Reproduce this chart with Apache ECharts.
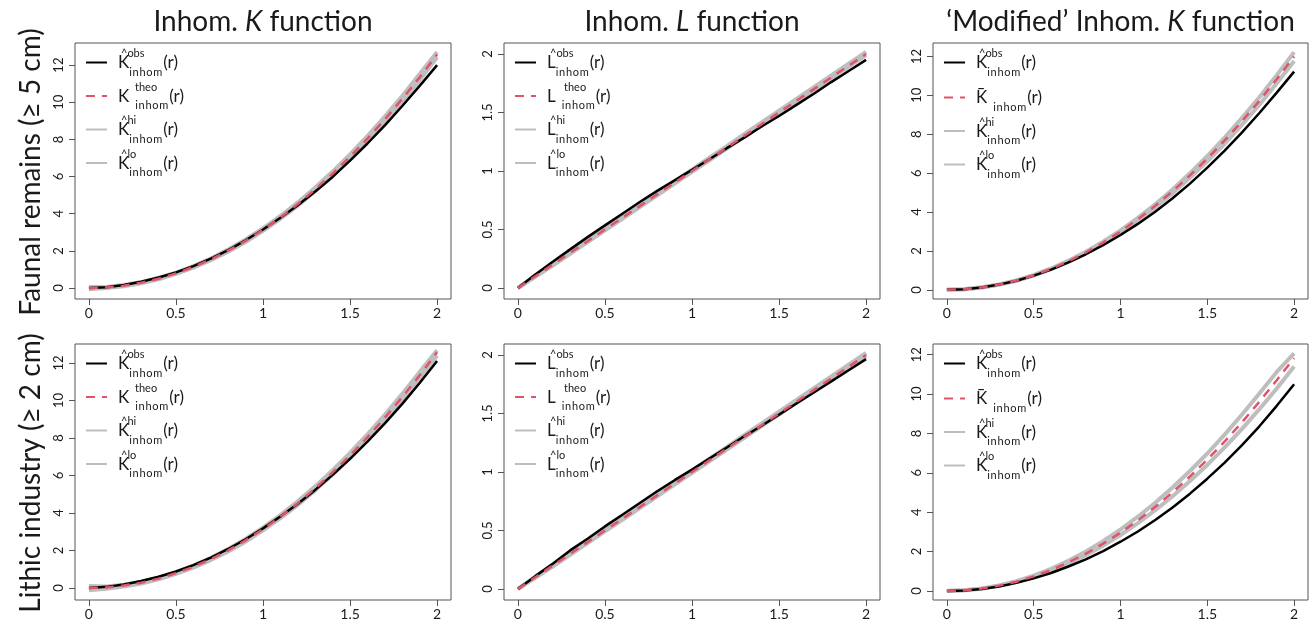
<!DOCTYPE html>
<html>
<head>
<meta charset="utf-8">
<script src="https://cdn.jsdelivr.net/npm/echarts@6/dist/echarts.min.js"></script>
<style>
  html, body { margin: 0; padding: 0; background: #fff; }
  #chart { width: 1314px; height: 623px; }
</style>
</head>
<body>
<div id="chart"></div>
<script>
// distance r, shared by all six panels
const radius = [0, 0.1, 0.2, 0.3, 0.4, 0.5, 0.6, 0.7, 0.8, 0.9, 1.0,
                1.1, 1.2, 1.3, 1.4, 1.5, 1.6, 1.7, 1.8, 1.9, 2.0];

// Faunal remains, inhom. K
const faunaKObs  = [0, 0.04, 0.16, 0.34, 0.57, 0.84, 1.18, 1.58, 2.04, 2.57, 3.15, 3.78, 4.46, 5.2, 5.98, 6.86, 7.78, 8.76, 9.8, 10.88, 12.0];
const faunaKTheo = [0, 0.03, 0.13, 0.28, 0.5, 0.79, 1.13, 1.54, 2.01, 2.54, 3.14, 3.8, 4.52, 5.31, 6.16, 7.07, 8.04, 9.08, 10.18, 11.34, 12.57];
const faunaKHi   = [0.06, 0.06, 0.17, 0.32, 0.54, 0.83, 1.18, 1.59, 2.07, 2.61, 3.21, 3.88, 4.61, 5.41, 6.27, 7.19, 8.18, 9.23, 10.34, 11.52, 12.7];
const faunaKLo   = [-0.06, 0.0, 0.1, 0.25, 0.47, 0.76, 1.1, 1.5, 1.96, 2.48, 3.08, 3.73, 4.44, 5.22, 6.06, 6.96, 7.92, 8.95, 10.04, 11.19, 12.42];

// Faunal remains, inhom. L
const faunaLObs  = [0, 0.115, 0.225, 0.33, 0.435, 0.535, 0.635, 0.735, 0.83, 0.92, 1.01, 1.1, 1.195, 1.285, 1.38, 1.47, 1.565, 1.66, 1.76, 1.855, 1.95];
const faunaLTheo = [0, 0.1, 0.2, 0.3, 0.4, 0.5, 0.6, 0.7, 0.8, 0.9, 1.0, 1.1, 1.2, 1.3, 1.4, 1.5, 1.6, 1.7, 1.8, 1.9, 2.0];
const faunaLHi   = [0, 0.105, 0.208, 0.309, 0.41, 0.511, 0.611, 0.711, 0.812, 0.912, 1.012, 1.113, 1.213, 1.314, 1.415, 1.516, 1.616, 1.717, 1.818, 1.918, 2.018];
const faunaLLo   = [0, 0.095, 0.192, 0.292, 0.392, 0.492, 0.592, 0.692, 0.792, 0.892, 0.992, 1.092, 1.192, 1.292, 1.392, 1.492, 1.592, 1.692, 1.792, 1.892, 1.99];

// Faunal remains, 'modified' inhom. K
const faunaMObs  = [0, 0.03, 0.12, 0.27, 0.47, 0.73, 1.04, 1.41, 1.83, 2.3, 2.82, 3.39, 4.02, 4.71, 5.46, 6.28, 7.16, 8.1, 9.09, 10.14, 11.22];
const faunaMBar  = [0, 0.03, 0.12, 0.27, 0.48, 0.75, 1.08, 1.47, 1.92, 2.43, 3.0, 3.63, 4.32, 5.07, 5.88, 6.75, 7.68, 8.67, 9.72, 10.83, 12.0];
const faunaMHi   = [0, 0.03, 0.13, 0.28, 0.49, 0.77, 1.1, 1.5, 1.96, 2.48, 3.06, 3.7, 4.4, 5.16, 5.99, 6.88, 7.83, 8.84, 9.9, 11.03, 12.22];
const faunaMLo   = [0, 0.03, 0.12, 0.26, 0.47, 0.73, 1.06, 1.44, 1.88, 2.38, 2.94, 3.56, 4.23, 4.97, 5.76, 6.61, 7.52, 8.49, 9.52, 10.62, 11.76];

// Lithic industry, inhom. K
const lithicKObs  = [0, 0.06, 0.19, 0.37, 0.6, 0.88, 1.22, 1.62, 2.08, 2.6, 3.18, 3.81, 4.49, 5.23, 6.03, 6.89, 7.8, 8.78, 9.82, 10.93, 12.1];
const lithicKTheo = [0, 0.03, 0.13, 0.28, 0.5, 0.79, 1.13, 1.54, 2.01, 2.54, 3.14, 3.8, 4.52, 5.31, 6.16, 7.07, 8.04, 9.08, 10.18, 11.34, 12.57];
const lithicKHi   = [0.1, 0.08, 0.18, 0.33, 0.55, 0.84, 1.19, 1.6, 2.08, 2.62, 3.22, 3.89, 4.62, 5.42, 6.28, 7.2, 8.19, 9.24, 10.35, 11.52, 12.68];
const lithicKLo   = [-0.12, -0.04, 0.08, 0.24, 0.46, 0.75, 1.09, 1.49, 1.95, 2.47, 3.07, 3.72, 4.43, 5.21, 6.05, 6.95, 7.91, 8.94, 10.03, 11.18, 12.4];

// Lithic industry, inhom. L
const lithicLObs  = [0, 0.11, 0.215, 0.33, 0.43, 0.535, 0.635, 0.735, 0.835, 0.93, 1.02, 1.115, 1.21, 1.305, 1.395, 1.49, 1.585, 1.68, 1.775, 1.87, 1.965];
const lithicLTheo = [0, 0.1, 0.2, 0.3, 0.4, 0.5, 0.6, 0.7, 0.8, 0.9, 1.0, 1.1, 1.2, 1.3, 1.4, 1.5, 1.6, 1.7, 1.8, 1.9, 2.0];
const lithicLHi   = [0, 0.105, 0.208, 0.309, 0.41, 0.511, 0.611, 0.711, 0.812, 0.912, 1.012, 1.113, 1.213, 1.314, 1.415, 1.516, 1.616, 1.717, 1.818, 1.918, 2.018];
const lithicLLo   = [0, 0.095, 0.192, 0.292, 0.392, 0.492, 0.592, 0.692, 0.792, 0.892, 0.992, 1.092, 1.192, 1.292, 1.392, 1.492, 1.592, 1.692, 1.792, 1.892, 1.99];

// Lithic industry, 'modified' inhom. K
const lithicMObs  = [0, 0.02, 0.1, 0.23, 0.41, 0.64, 0.91, 1.24, 1.6, 2.02, 2.5, 3.02, 3.6, 4.24, 4.94, 5.7, 6.52, 7.4, 8.36, 9.4, 10.5];
const lithicMBar  = [0, 0.03, 0.12, 0.27, 0.47, 0.74, 1.06, 1.45, 1.89, 2.4, 2.96, 3.58, 4.27, 5.01, 5.81, 6.67, 7.59, 8.57, 9.61, 10.7, 11.82];
const lithicMHi   = [0, 0.03, 0.13, 0.28, 0.5, 0.78, 1.12, 1.53, 2.0, 2.53, 3.12, 3.77, 4.48, 5.25, 6.09, 6.98, 7.94, 8.96, 10.03, 11.12, 12.06];
const lithicMLo   = [0, 0.03, 0.11, 0.26, 0.45, 0.71, 1.01, 1.39, 1.81, 2.3, 2.84, 3.44, 4.1, 4.81, 5.58, 6.4, 7.29, 8.23, 9.23, 10.28, 11.4];

// tick labels
const xTicks = [0, 0.5, 1, 1.5, 2];
const kTicks = [0, 2, 4, 6, 8, 10, 12];
const lTicks = [0, 0.5, 1, 1.5, 2];

const colTitles = [
  '{n|Inhom. }{i|K}{n| function}',
  '{n|Inhom. }{i|L}{n| function}',
  '{n|\u2018Modified\u2019 Inhom. }{i|K}{n| function}'
];
const rowTitles = ['Faunal remains (\u2265 5 cm)', 'Lithic industry (\u2265 2 cm)'];

// panel layout
const colLeft = [75, 504, 933];
const colWidth = [376, 376, 375];
const rowTop = [43, 344];
const gridHeight = 256;

const panels = [
  { row: 0, col: 0, letter: 'K', mod: false, ticks: kTicks, yMin: -0.59, yMax: 13.19, obs: faunaKObs, theo: faunaKTheo, hi: faunaKHi, lo: faunaKLo },
  { row: 0, col: 1, letter: 'L', mod: false, ticks: lTicks, yMin: -0.094, yMax: 2.094, obs: faunaLObs, theo: faunaLTheo, hi: faunaLHi, lo: faunaLLo },
  { row: 0, col: 2, letter: 'K', mod: true, ticks: kTicks, yMin: -0.47, yMax: 12.69, obs: faunaMObs, theo: faunaMBar, hi: faunaMHi, lo: faunaMLo },
  { row: 1, col: 0, letter: 'K', mod: false, ticks: kTicks, yMin: -0.64, yMax: 13.01, obs: lithicKObs, theo: lithicKTheo, hi: lithicKHi, lo: lithicKLo },
  { row: 1, col: 1, letter: 'L', mod: false, ticks: lTicks, yMin: -0.094, yMax: 2.094, obs: lithicLObs, theo: lithicLTheo, hi: lithicLHi, lo: lithicLLo },
  { row: 1, col: 2, letter: 'K', mod: true, ticks: kTicks, yMin: -0.46, yMax: 12.54, obs: lithicMObs, theo: lithicMBar, hi: lithicMHi, lo: lithicMLo }
];

const ink = '#1a1a1a';
const axisGrey = '#555';
const none = 'rgba(0,0,0,0)';
const subText = 'i\u200An\u200Ah\u200Ao\u200Am';

// rich text pieces for the hat / bar / super- and subscripts of the legend
const legendRich = {
  hat: { fontSize: 11, lineHeight: 12, padding: [0, 0, 0, 9], color: ink },
  bar: { fontSize: 14, lineHeight: 12, padding: [0, 0, 0, 7], color: ink, fontWeight: 'bold' },
  gap: { fontSize: 11, width: 17, lineHeight: 12, padding: [0, 0, 0, 6] },
  sup: { fontSize: 11, lineHeight: 12, color: ink },
  k0: { fontSize: 17, lineHeight: 18, verticalAlign: 'bottom', padding: [0, 0, 6, 6], color: ink },
  k: { fontSize: 17, lineHeight: 18, verticalAlign: 'bottom', padding: [0, 0, 6, 1], color: ink },
  sp: { fontSize: 17, width: 6, lineHeight: 18, verticalAlign: 'bottom', padding: [0, 0, 6, 0] },
  sub: { fontSize: 11, lineHeight: 12, verticalAlign: 'bottom', color: ink }
};

function legendText(letter, mod, kind) {
  const line2 = '{k0|' + letter + '}{sub|' + subText + '}{k|(r)}';
  const line2gap = '{k0|' + letter + '}{sp| }{sub|' + subText + '}{k|(r)}';
  if (kind === 'theo') {
    if (mod) return '{bar|\u2013}\n' + line2gap;
    return '{gap| }{sup|theo}\n' + line2gap;
  }
  return '{hat|^}{sup|' + kind + '}\n' + line2;
}

const grids = [], xAxes = [], yAxes = [], series = [], legends = [], graphics = [];

panels.forEach(function (p, i) {
  grids.push({
    left: colLeft[p.col], top: rowTop[p.row], width: colWidth[p.col], height: gridHeight,
    show: true, borderColor: axisGrey, borderWidth: 1, backgroundColor: 'transparent'
  });
  xAxes.push({
    type: 'value', gridIndex: i, min: -0.08, max: 2.08,
    axisLine: { show: false, onZero: false },
    splitLine: { show: false },
    axisTick: { show: true, length: 6, inside: false, customValues: xTicks, lineStyle: { color: axisGrey } },
    axisLabel: { customValues: xTicks, color: ink, fontSize: 14, margin: 7 }
  });
  yAxes.push({
    type: 'value', gridIndex: i, min: p.yMin, max: p.yMax,
    axisLine: { show: false, onZero: false },
    splitLine: { show: false },
    axisTick: { show: true, length: 6, inside: false, customValues: p.ticks, lineStyle: { color: axisGrey } },
    axisLabel: { customValues: p.ticks, color: ink, fontSize: 13, rotate: 90, margin: 10 }
  });

  const names = ['obs', 'theo', 'hi', 'lo'].map(function (k) { return k + i; });
  const toPts = function (arr) { return radius.map(function (x, j) { return [x, arr[j]]; }); };

  series.push(
    { name: names[3], type: 'line', xAxisIndex: i, yAxisIndex: i, data: toPts(p.lo), showSymbol: false, symbol: 'none', z: 2,
      lineStyle: { color: '#BEBEBE', width: 4 }, itemStyle: { color: '#BEBEBE' } },
    { name: names[2], type: 'line', xAxisIndex: i, yAxisIndex: i, data: toPts(p.hi), showSymbol: false, symbol: 'none', z: 2,
      lineStyle: { color: '#BEBEBE', width: 4 }, itemStyle: { color: '#BEBEBE' } },
    { name: names[0], type: 'line', xAxisIndex: i, yAxisIndex: i, data: toPts(p.obs), showSymbol: false, symbol: 'none', z: 3,
      lineStyle: { color: '#000', width: 2.5 }, itemStyle: { color: '#000' } },
    { name: names[1], type: 'line', xAxisIndex: i, yAxisIndex: i, data: toPts(p.theo), showSymbol: false, symbol: 'none', z: 4,
      lineStyle: { color: '#DF536B', width: 2.5, type: [9, 7] }, itemStyle: { color: '#DF536B' } }
  );

  legends.push({
    data: names,
    orient: 'vertical',
    left: colLeft[p.col] + 10,
    top: rowTop[p.row] + 5,
    itemWidth: 21,
    itemHeight: 12,
    itemGap: 4,
    selectedMode: false,
    padding: 0,
    itemStyle: { color: none, borderColor: none, borderWidth: 0, opacity: 0 },
    formatter: function (name) {
      return legendText(p.letter, p.mod, name.replace(/\d+$/, ''));
    },
    textStyle: { fontFamily: 'Lato', color: ink, rich: legendRich }
  });
});

colTitles.forEach(function (t, c) {
  graphics.push({
    type: 'text',
    x: colLeft[c] + colWidth[c] / 2,
    y: 22,
    style: {
      text: t,
      align: 'center',
      verticalAlign: 'middle',
      fill: ink,
      rich: {
        n: { fontSize: 28, fontFamily: 'Lato', fill: ink },
        i: { fontSize: 28, fontFamily: 'Lato', fontStyle: 'italic', fill: ink }
      }
    }
  });
});

rowTitles.forEach(function (t, r) {
  graphics.push({
    type: 'text',
    x: 31,
    y: rowTop[r] + gridHeight / 2 + 1,
    rotation: Math.PI / 2,
    style: {
      text: t,
      align: 'center',
      verticalAlign: 'middle',
      fill: ink,
      fontSize: 28,
      fontFamily: 'Lato'
    }
  });
});

const chart = echarts.init(document.getElementById('chart'), null, { renderer: 'canvas' });
chart.setOption({
  animation: false,
  backgroundColor: '#fff',
  textStyle: { fontFamily: 'Lato' },
  grid: grids,
  xAxis: xAxes,
  yAxis: yAxes,
  legend: legends,
  series: series,
  graphic: graphics
});
</script>
</body>
</html>
